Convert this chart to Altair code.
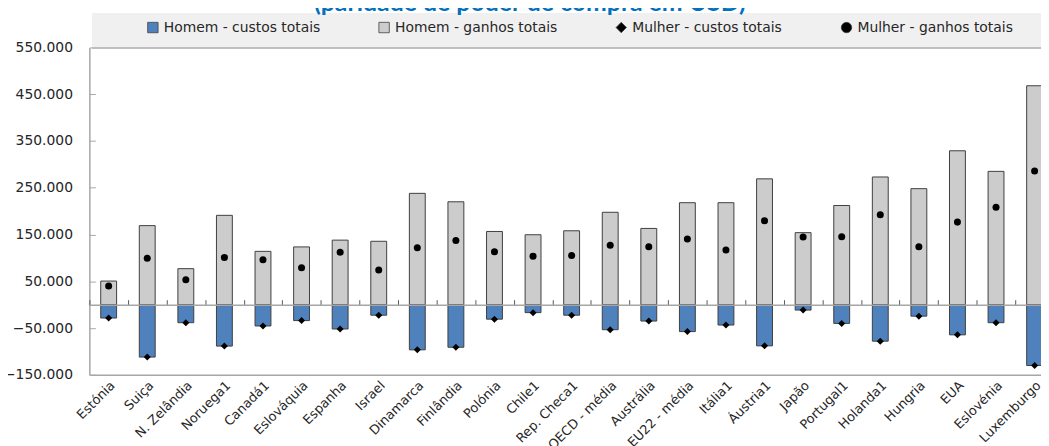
import altair as alt
import pandas as pd

categorias = ["Estónia", "Suiça", "N. Zelândia", "Noruega1", "Canadá1", "Eslováquia",
              "Espanha", "Israel", "Dinamarca", "Finlândia", "Polónia", "Chile1",
              "Rep. Checa1", "OECD - média", "Austrália", "EU22 - média", "Itália1",
              "Áustria1", "Japão", "Portugal1", "Holanda1", "Hungria", "EUA",
              "Eslovénia", "Luxemburgo"]

homem_custos = [-28500, -112000, -38500, -88500, -45500, -34000, -52000, -22500, -96500,
                -91000, -31000, -17000, -22500, -53500, -35000, -57500, -43500, -88000,
                -11500, -40000, -78000, -24500, -64500, -38500, -130000]
homem_ganhos = [50500, 169000, 77000, 191000, 114000, 123500, 138000, 135500, 238000,
                220000, 156500, 149500, 158000, 197500, 163000, 218000, 218000, 269000,
                154000, 212000, 273000, 248000, 329000, 285000, 468000]
mulher_custos = [-28500, -112000, -38500, -88500, -45500, -34000, -52000, -22500, -96500,
                 -91000, -31000, -17000, -22500, -53500, -35000, -57500, -43500, -88000,
                 -11500, -40000, -78000, -24500, -64500, -38500, -130000]
mulher_ganhos = [40000, 99500, 53500, 101000, 96000, 79000, 112000, 74000, 121500,
                 137000, 113000, 103500, 105000, 127000, 124000, 140500, 117000, 179500,
                 144500, 145000, 192000, 124000, 176500, 208500, 286000]

series = ["Homem - custos totais", "Homem - ganhos totais",
          "Mulher - custos totais", "Mulher - ganhos totais"]
y_ticks = [-150000, -50000, 50000, 150000, 250000, 350000, 450000, 550000]
titulo = "(paridade de poder de compra em USD)"

rows = []
for s, vals in zip(series, [homem_custos, homem_ganhos, mulher_custos, mulher_ganhos]):
    for c, v in zip(categorias, vals):
        rows.append({"pais": c, "serie": s, "valor": v})
df = pd.DataFrame(rows)

W = 959
H = 330
STEP_RANGE = 972

color_scale = alt.Scale(domain=series, range=["#4F81BD", "#CCCCCC", "#000000", "#000000"])
shape_scale = alt.Scale(domain=series, range=["square", "square", "diamond", "circle"])
y_scale = alt.Scale(domain=[-150000, 550000], nice=False, zero=False)
x_scale = alt.Scale(domain=categorias, range=[0, STEP_RANGE], paddingInner=0, paddingOuter=0)

legend = alt.Legend(title=None, orient="none", legendX=57, legendY=-27, direction="horizontal",
                    padding=0, columnPadding=57, labelOffset=4, symbolSize=110, labelLimit=400,
                    symbolStrokeColor="#404040", symbolStrokeWidth=0.8,
                    labelFont="DejaVu Sans", labelFontSize=14, labelColor="#262626")

base = alt.Chart(df)

# background of the legend band
bg = base.mark_rect(color="#F0F0F0").encode(
    x=alt.value(3), x2=alt.value(W + 40), y=alt.value(-34), y2=alt.value(0)
)
bg_line = base.mark_rule(color="#BFBFBF", strokeWidth=2).encode(
    x=alt.value(3), x2=alt.value(W + 40), y=alt.value(0.5)
)

title_txt = alt.Chart(pd.DataFrame({"t": [titulo]})).mark_text(
    font="Lato", fontSize=25, fontWeight="bold", color="#0070C0",
    align="center", baseline="alphabetic"
).encode(text="t:N", x=alt.value(444), y=alt.value(-37))

bars = base.transform_filter(
    alt.FieldOneOfPredicate(field="serie", oneOf=series[:2])
).mark_bar(size=16, stroke="#404040", strokeWidth=1).encode(
    x=alt.X("pais:N", sort=categorias, scale=x_scale,
            axis=alt.Axis(title=None, orient="bottom", labelAngle=-45, ticks=False,
                          domainColor="#A6A6A6", domainWidth=1.5, labelPadding=4, labelOffset=0,
                          labelFont="DejaVu Sans", labelFontSize=13, labelColor="#262626")),
    y=alt.Y("valor:Q", scale=y_scale, stack=None,
            axis=alt.Axis(title=None, values=y_ticks, ticks=False, grid=False,
                          domainColor="#A6A6A6", domainWidth=1.5, labelPadding=17,
                          labelFont="DejaVu Sans", labelFontSize=14, labelColor="#262626",
                          labelExpr="replace(format(datum.value, ',.0f'), ',', '.')")),
    color=alt.Color("serie:N", scale=color_scale, legend=legend),
)

points = base.transform_filter(
    alt.FieldOneOfPredicate(field="serie", oneOf=series[2:])
).mark_point(filled=True, opacity=1, size=50).encode(
    x=alt.X("pais:N", sort=categorias, scale=x_scale,
            axis=alt.Axis(title=None, orient="top", offset=-(H * 550 / 700), labels=False,
                          tickBand="extent", tickSize=5, tickColor="#595959", tickWidth=1,
                          domainColor="#A6A6A6", domainWidth=1.5, zindex=1)),
    y=alt.Y("valor:Q", scale=y_scale,
            axis=alt.Axis(title=None, orient="right", offset=-W, values=y_ticks, labels=False,
                          domain=False, grid=False, tickSize=6, tickColor="#A6A6A6")),
    color=alt.Color("serie:N", scale=color_scale, legend=legend),
    shape=alt.Shape("serie:N", scale=shape_scale, legend=legend),
)

chart = alt.layer(bg, bg_line, title_txt, bars, points).resolve_axis(
    x="independent", y="independent"
).properties(
    width=W, height=H,
    autosize=alt.AutoSizeParams(type="none"),
    padding={"left": 82, "top": 38, "right": 0, "bottom": 70},
).configure_view(stroke=None)

chart.save("out.html", embed_options={"renderer": "svg", "actions": False})
